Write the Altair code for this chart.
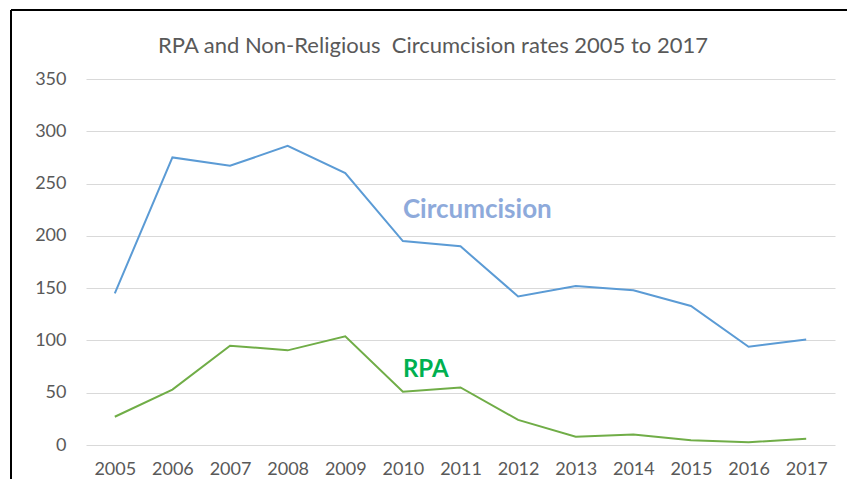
import altair as alt
import pandas as pd

years = [2005, 2006, 2007, 2008, 2009, 2010, 2011, 2012, 2013, 2014, 2015, 2016, 2017]
circumcision = [145, 275, 267, 286, 260, 195, 190, 142, 152, 148, 133, 94, 101]
rpa = [27, 53, 95, 90.5, 104, 51, 55, 24, 8, 10, 4.5, 2.6, 6]
series_names = ["Circumcision", "RPA"]
series_colors = ["#5B9BD5", "#70AD47"]
label_colors = ["#8EAADB", "#00B050"]
label_years = [2010, 2010]
label_values = [217, 65]
y_ticks = [0, 50, 100, 150, 200, 250, 300, 350]
title_text = ["RPA and Non-Religious\u00a0 Circumcision rates 2005 to 2017"]

rows = []
for y, c, r in zip(years, circumcision, rpa):
    rows.append({"year": y, "series": "Circumcision", "value": c})
    rows.append({"year": y, "series": "RPA", "value": r})
df = pd.DataFrame(rows)
labels = pd.DataFrame({"year": label_years, "value": label_values,
                       "series": series_names, "color": label_colors})
title_df = pd.DataFrame({"t": title_text})

FONT = "Lato"
x = alt.X("year:O", scale=alt.Scale(type="point", padding=0.5),
          axis=alt.Axis(title=None, labelAngle=0, domain=False, ticks=False,
                        labelPadding=15, labelFontSize=18, labelColor="#595959",
                        labelFont=FONT))
y = alt.Y("value:Q", scale=alt.Scale(domain=[0, 350], nice=False),
          axis=alt.Axis(title=None, values=y_ticks, domain=False, ticks=False,
                        labelPadding=20, labelFontSize=18, labelColor="#595959",
                        labelFont=FONT, gridColor="#D9D9D9", gridWidth=1))

lines = alt.Chart(df).mark_line(strokeWidth=2).encode(
    x=x, y=y,
    color=alt.Color("series:N", scale=alt.Scale(domain=series_names, range=series_colors),
                    legend=None),
)

def label_layer(name, size):
    return alt.Chart(labels).transform_filter(alt.datum.series == name).mark_text(
        align="left", baseline="alphabetic", fontWeight="bold", fontSize=size, font=FONT
    ).encode(
        x=alt.X("year:O"), y=alt.Y("value:Q"),
        text="series:N",
        color=alt.Color("color:N", scale=None),
    )

text_c = label_layer("Circumcision", 26)
text_r = label_layer("RPA", 24)

title = alt.Chart(title_df).mark_text(
    align="center", baseline="alphabetic", fontSize=22, font=FONT, color="#595959"
).encode(text="t:N", x=alt.value(347), y=alt.value(-26))

frame_left = alt.Chart(df).mark_rule(color="black", strokeWidth=2).encode(
    x=alt.value(-75), y=alt.value(-69), y2=alt.value(420))
frame_top = alt.Chart(df).mark_rule(color="black", strokeWidth=2).encode(
    x=alt.value(-75), x2=alt.value(800), y=alt.value(-69))

chart = alt.layer(lines, text_c, text_r, title, frame_left, frame_top).properties(
    width=749, height=366,
    autosize=alt.AutoSizeParams(type="none"),
    padding={"left": 78, "top": 71, "right": 12, "bottom": 34},
).configure_view(stroke=None)

chart.save("out.html", embed_options={"renderer": "svg", "actions": False})
